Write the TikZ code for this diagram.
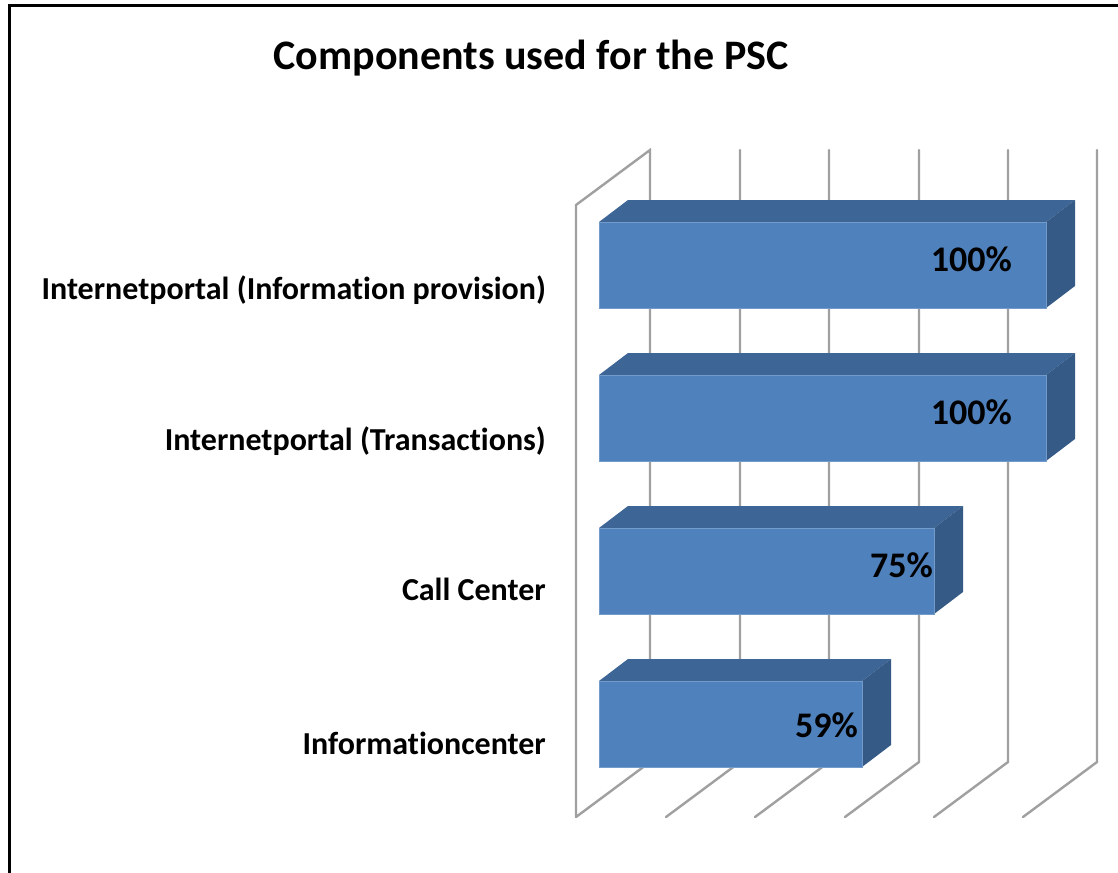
\documentclass[tikz,border=0pt]{standalone}
\usepackage{fontspec}
\setmainfont[Ligatures=NoCommon]{Carlito}
\definecolor{barfront}{HTML}{4F81BD}
\definecolor{bartop}{HTML}{3D6596}
\definecolor{barside}{HTML}{365A86}
\definecolor{gridgray}{HTML}{A0A0A0}
\tikzset{
  gridline/.style={draw=gridgray,line width=2.4pt,line cap=round,line join=miter},
  catlabel/.style={anchor=base east,font=\bfseries\fontsize{32}{38}\selectfont,inner sep=0pt},
  vallabel/.style={anchor=base east,font=\bfseries\fontsize{36}{42}\selectfont,inner sep=0pt},
  titlelabel/.style={anchor=base,font=\bfseries\fontsize{42}{50}\selectfont,inner sep=0pt},
  frontface/.style={fill=barfront,draw=barfront!80!white,line width=0.8pt},
  topface/.style={fill=bartop},
  sideface/.style={fill=barside}
}
\newcommand{\drawbar}[2]{% #1 top y, #2 width
  \fill[topface] (599,#1) -- (628,#1-22) -- (628+#2,#1-22) -- (599+#2,#1) -- cycle;
  \fill[sideface] (599+#2,#1) -- (628+#2,#1-22) -- (628+#2,#1+64) -- (599+#2,#1+86) -- cycle;
  \filldraw[frontface] (599,#1) rectangle (599+#2,#1+86);
}
\begin{document}
\begin{tikzpicture}[x=1pt,y=-1pt]
\useasboundingbox (0,0) rectangle (1118,872);
\fill[white] (0,0) rectangle (1118,872);
\draw[black,line width=3pt] (9,6) rectangle (1130,885);
% title
\node[titlelabel] (title) at (531,70) {Components used for the PSC};
% left wall
\draw[gridline] (576,817) -- (576,205) -- (650,150) -- (650,762) -- (576,817);
% grid lines
\foreach \x [count=\i] in {740,829,919,1008,1097}{
  \draw[gridline] (\x,150) -- (\x,762) -- (\x-74,817);
}
% bars
\drawbar{222}{447}
\drawbar{375}{447}
\drawbar{528}{335}
\drawbar{681}{263}
% value labels
\node[vallabel] (v1) at (1012,271) {100\%};
\node[vallabel] (v2) at (1012,424) {100\%};
\node[vallabel] (v3) at (933,577) {75\%};
\node[vallabel] (v4) at (858,737) {59\%};
% category labels
\node[catlabel] (c1) at (546,299) {Internetportal (Information provision)};
\node[catlabel] (c2) at (546,450) {Internetportal (Transactions)};
\node[catlabel] (c3) at (546,600) {Call Center};
\node[catlabel] (c4) at (546,754) {Informationcenter};
\end{tikzpicture}
\end{document}
